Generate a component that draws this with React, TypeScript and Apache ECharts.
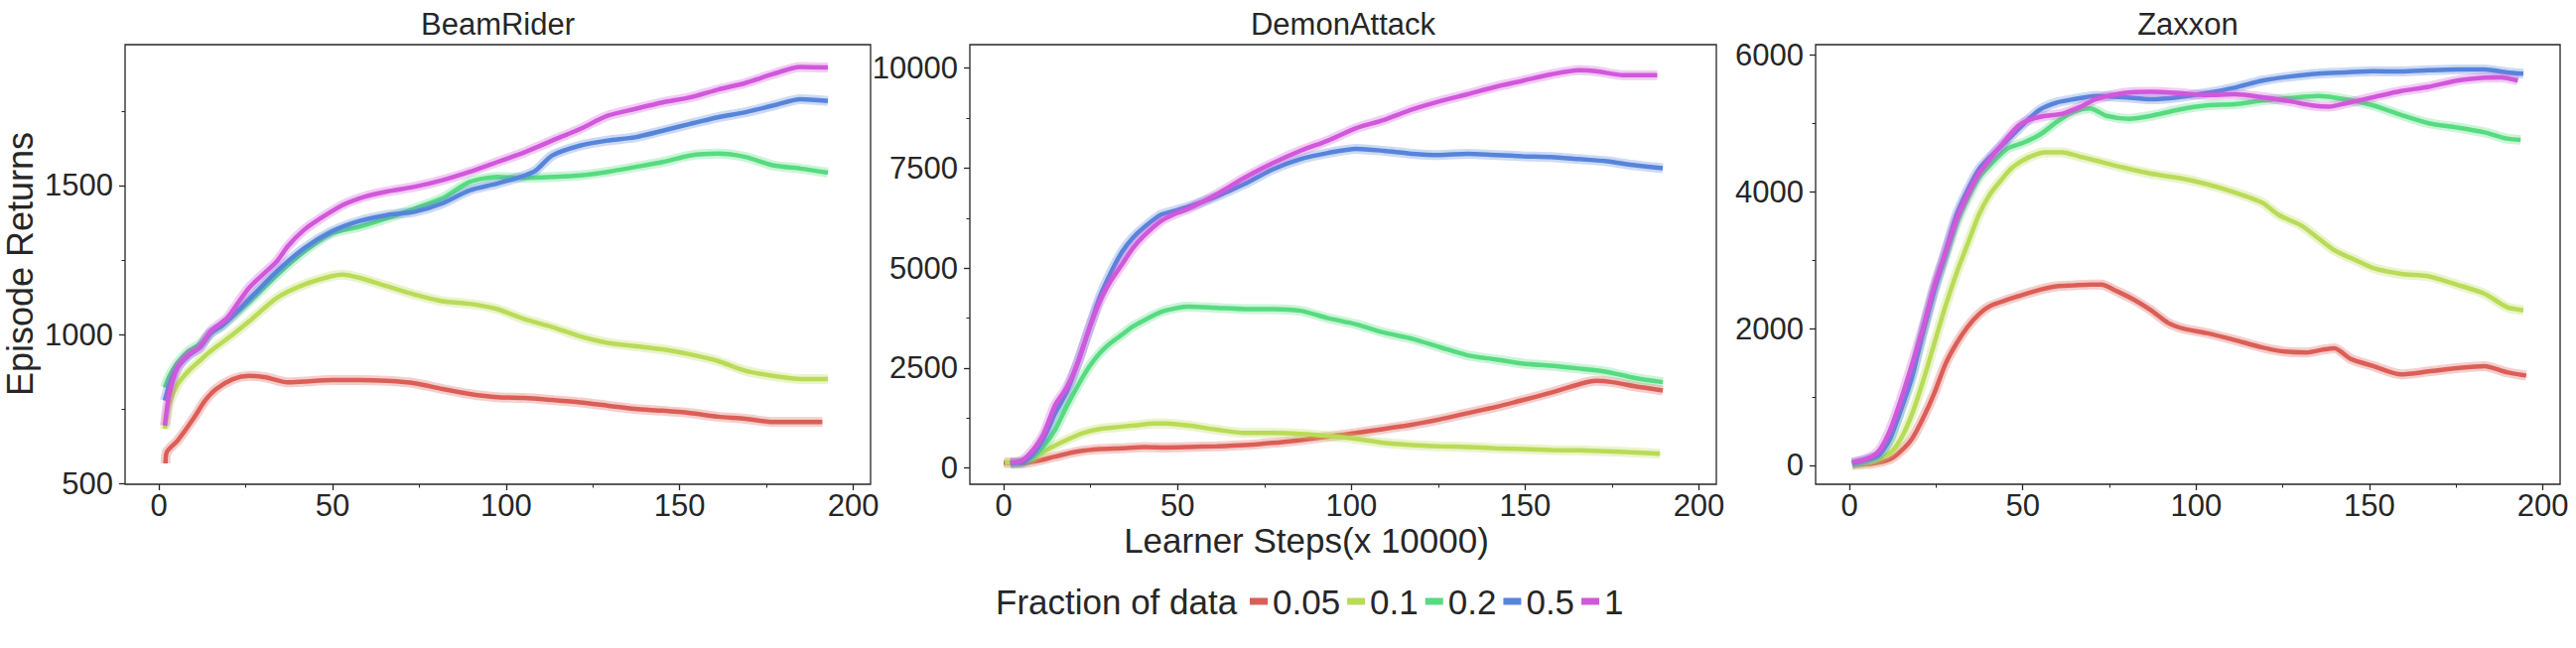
import React, { useEffect, useRef } from "react";
import * as echarts from "echarts";

// ---------- data ----------
const fractions = ["0.05", "0.1", "0.2", "0.5", "1"];
const games = ["BeamRider", "DemonAttack", "Zaxxon"];

const xMajorTicks = [0, 50, 100, 150, 200];
const xMinorTicks = [25, 75, 125, 175];
const beamRiderTicks = [500, 1000, 1500];
const beamRiderMinor = [750, 1250, 1750];
const demonAttackTicks = [0, 2500, 5000, 7500, 10000];
const demonAttackMinor = [1250, 3750, 6250, 8750];
const zaxxonTicks = [0, 2000, 4000, 6000];
const zaxxonMinor = [1000, 3000, 5000];

// BeamRider
const br005: [number, number][] = [
  [1.9, 567], [2.3, 606], [5.4, 644], [10.2, 722], [13.3, 778], [16.5, 817], [21.3, 850], [26, 861],
  [30.8, 856], [37.1, 839], [41.9, 842], [49.8, 847], [57.8, 847], [65.7, 844], [73.7, 836], [81.6, 817],
  [89.5, 800], [97.5, 789], [105.4, 787], [113.3, 780], [121.3, 772], [129.2, 761], [137.1, 750],
  [145.1, 744], [153, 736], [161, 724], [168.9, 717], [176.8, 706], [184.8, 706], [191.1, 706],
];
const br01: [number, number][] = [
  [1.7, 683], [3, 767], [5.4, 833], [8.6, 878], [11.7, 911], [14.9, 944], [21.3, 1000], [26, 1044],
  [34, 1123], [41.9, 1168], [49.8, 1196], [53, 1201], [57.8, 1190], [65.7, 1162], [73.7, 1134],
  [81.6, 1112], [89.5, 1103], [97.5, 1085], [105.4, 1051], [113.3, 1025], [121.3, 994], [129.2, 972],
  [137.1, 961], [145.1, 950], [153, 933], [161, 911], [168.9, 878], [176.8, 861], [184.8, 850], [192.7, 850],
];
const br02: [number, number][] = [
  [1.7, 822], [3, 860], [5.4, 905], [8.6, 945], [11.7, 967], [14.9, 1005], [18.1, 1029], [26, 1110],
  [34, 1200], [41.9, 1279], [49.8, 1340], [57.8, 1362], [65.7, 1390], [73.7, 1423], [81.6, 1457],
  [89.5, 1512], [97.5, 1529], [105.4, 1526], [113.3, 1529], [121.3, 1534], [129.2, 1546], [137.1, 1562],
  [145.1, 1579], [153, 1601], [161, 1607], [168.9, 1596], [176.8, 1568], [184.8, 1557], [192.7, 1543],
];
const br05: [number, number][] = [
  [1.7, 778], [3, 830], [5.4, 890], [8.6, 930], [11.7, 955], [14.9, 1005], [18.1, 1029], [26, 1118],
  [34, 1212], [41.9, 1290], [49.8, 1346], [57.8, 1381], [65.7, 1401], [73.7, 1412], [81.6, 1440],
  [89.5, 1484], [97.5, 1507], [105.4, 1534], [108.6, 1551], [113.3, 1601], [121.3, 1634], [129.2, 1651],
  [137.1, 1662], [145.1, 1684], [153, 1707], [161, 1729], [168.9, 1746], [176.8, 1768], [184.8, 1790], [192.7, 1784],
];
const br1: [number, number][] = [
  [1.7, 694], [3, 800], [5.4, 889], [8.6, 933], [11.7, 956], [14.9, 1011], [18.1, 1040], [19.7, 1055],
  [26, 1157], [34, 1246], [37.1, 1296], [41.9, 1352], [46.7, 1391], [53, 1435], [59.4, 1463], [65.7, 1480],
  [73.7, 1496], [81.6, 1518], [89.5, 1546], [97.5, 1579], [105.4, 1612], [113.3, 1651], [121.3, 1690],
  [129.2, 1734], [137.1, 1757], [145.1, 1779], [153, 1796], [161, 1822], [168.9, 1844], [176.8, 1874],
  [184.8, 1898], [192.7, 1896],
];

// DemonAttack
const da005: [number, number][] = [
  [0, 134], [5.1, 114], [9.9, 186], [14.8, 289], [21.2, 413], [27.6, 475], [34, 496], [40.4, 527],
  [46.8, 516], [53.2, 527], [61.3, 547], [69.3, 578], [77.3, 630], [85.3, 702], [93.3, 785], [101.4, 878],
  [109.4, 981], [117.4, 1085], [125.4, 1219], [133.4, 1374], [141.5, 1529], [149.5, 1705], [157.5, 1890],
  [165.5, 2097], [170.3, 2180], [175.1, 2149], [181.6, 2045], [189.6, 1942],
];
const da01: [number, number][] = [
  [0.3, 134], [5.1, 155], [8.3, 238], [13.2, 496], [18, 702], [22.8, 878], [27.6, 981], [30.8, 1012],
  [37.2, 1064], [43.6, 1116], [46.8, 1116], [53.2, 1064], [61.3, 961], [69.3, 878], [77.3, 878],
  [85.3, 857], [93.3, 806], [101.4, 733], [109.4, 630], [117.4, 578], [125.4, 547], [133.4, 527],
  [141.5, 496], [149.5, 475], [157.5, 454], [165.5, 444], [173.5, 424], [181.6, 393], [188.8, 362],
];
const da02: [number, number][] = [
  [1.9, 83], [5.1, 155], [8.3, 289], [11.5, 547], [14.8, 961], [18, 1529], [21.2, 2045], [24.4, 2510],
  [27.6, 2872], [30.8, 3130], [34, 3337], [37.2, 3543], [40.4, 3698], [45.2, 3905], [50, 4008],
  [53.2, 4039], [61.3, 4008], [69.3, 3977], [77.3, 3977], [85.3, 3936], [93.3, 3750], [101.4, 3595],
  [109.4, 3388], [117.4, 3233], [125.4, 3027], [133.4, 2820], [141.5, 2717], [149.5, 2613], [157.5, 2562],
  [165.5, 2490], [173.5, 2407], [181.6, 2252], [189.6, 2149],
];
const da05: [number, number][] = [
  [1.9, 134], [5.1, 134], [8.3, 341], [11.5, 754], [14.8, 1374], [18, 1890], [21.2, 2613], [24.4, 3440],
  [27.6, 4266], [30.8, 4886], [34, 5403], [37.2, 5764], [40.4, 6022], [45.2, 6332], [50, 6456],
  [53.2, 6539], [61.3, 6797], [69.3, 7107], [77.3, 7469], [85.3, 7727], [93.3, 7882], [101.4, 7985],
  [109.4, 7934], [117.4, 7861], [125.4, 7830], [133.4, 7861], [141.5, 7830], [149.5, 7799], [157.5, 7779],
  [165.5, 7727], [173.5, 7675], [181.6, 7572], [189.6, 7500],
];
const da1: [number, number][] = [
  [1.9, 134], [5.1, 186], [8.3, 444], [11.5, 857], [14.8, 1580], [18, 1994], [21.2, 2613], [24.4, 3440],
  [27.6, 4163], [30.8, 4680], [34, 5093], [37.2, 5506], [40.4, 5816], [45.2, 6177], [50, 6384],
  [53.2, 6487], [61.3, 6849], [69.3, 7262], [77.3, 7624], [85.3, 7934], [93.3, 8192], [101.4, 8502],
  [109.4, 8708], [117.4, 8967], [125.4, 9173], [133.4, 9349], [141.5, 9535], [149.5, 9690], [157.5, 9845],
  [165.5, 9948], [170.3, 9927], [178.3, 9824], [188, 9824],
];

// Zaxxon
const zx005: [number, number][] = [
  [0.8, 6], [6.9, 30], [11.7, 91], [14.9, 212], [18.1, 393], [21.3, 696], [24.5, 1058], [27.7, 1482],
  [30.9, 1784], [34.1, 2026], [37.3, 2208], [40.5, 2328], [45.4, 2419], [50.2, 2498], [55, 2570],
  [59.8, 2619], [64.6, 2631], [69.4, 2643], [72.6, 2643], [77.4, 2540], [82.2, 2419], [87, 2268],
  [91.8, 2087], [96.6, 1996], [103, 1935], [111.1, 1833], [119.1, 1724], [125.5, 1663], [131.9, 1651],
  [136.7, 1693], [139.9, 1712], [144.7, 1554], [151.1, 1452], [159.1, 1331], [167.1, 1373], [175.2, 1421],
  [183.2, 1452], [189.6, 1361], [195.2, 1312],
];
const zx01: [number, number][] = [
  [0.8, 12], [6.9, 60], [11.7, 181], [14.9, 393], [18.1, 756], [21.3, 1240], [24.5, 1784], [27.7, 2328],
  [30.9, 2812], [34.1, 3236], [37.3, 3659], [40.5, 3961], [43.8, 4173], [47, 4355], [51.8, 4506],
  [56.6, 4578], [61.4, 4578], [66.2, 4518], [71, 4457], [79, 4355], [87, 4264], [95, 4203], [103, 4113],
  [111.1, 3992], [119.1, 3840], [123.9, 3659], [130.3, 3508], [135.1, 3326], [139.9, 3145], [146.3, 2994],
  [151.1, 2885], [159.1, 2800], [167.1, 2764], [175.2, 2643], [183.2, 2510], [189.6, 2316], [194.4, 2268],
];
const zx02: [number, number][] = [
  [0.8, 18], [5.3, 73], [8.5, 151], [11.7, 381], [14.9, 847], [18.1, 1361], [21.3, 1966], [24.5, 2570],
  [27.7, 3054], [30.9, 3538], [34.1, 3901], [37.3, 4203], [40.5, 4385], [45.4, 4627], [50.2, 4718],
  [55, 4838], [59.8, 5020], [64.6, 5171], [69.4, 5219], [74.2, 5110], [80.6, 5068], [87, 5110], [95, 5201],
  [103, 5262], [111.1, 5280], [119.1, 5334], [127.1, 5370], [135.1, 5401], [143.1, 5352], [151.1, 5262],
  [159.1, 5123], [167.1, 5002], [175.2, 4941], [183.2, 4869], [189.6, 4778], [193.6, 4760],
];
const zx05: [number, number][] = [
  [0.8, 30], [5.3, 91], [8.5, 151], [11.7, 393], [14.9, 816], [18.1, 1300], [21.3, 1966], [24.5, 2570],
  [27.7, 3115], [30.9, 3659], [34.1, 4022], [37.3, 4324], [40.5, 4506], [45.4, 4748], [50.2, 4990],
  [55, 5201], [59.8, 5304], [64.6, 5352], [71, 5401], [79, 5383], [87, 5352], [95, 5383], [103, 5443],
  [111.1, 5522], [119.1, 5625], [127.1, 5685], [135.1, 5727], [143.1, 5746], [151.1, 5764], [159.1, 5758],
  [167.1, 5776], [175.2, 5788], [183.2, 5788], [189.6, 5746], [194.4, 5727],
];
const zx1: [number, number][] = [
  [0.8, 42], [5.3, 103], [8.5, 212], [11.7, 514], [14.9, 968], [18.1, 1482], [21.3, 2026], [24.5, 2631],
  [27.7, 3115], [30.9, 3599], [34.1, 3961], [37.3, 4264], [40.5, 4476], [45.4, 4778], [48.6, 4959],
  [51.8, 5050], [56.6, 5110], [61.4, 5141], [66.2, 5231], [71, 5352], [79, 5443], [87, 5461], [95, 5443],
  [103, 5413], [111.1, 5425], [119.1, 5383], [127.1, 5322], [133.5, 5262], [138.3, 5244], [143.1, 5292],
  [151.1, 5383], [159.1, 5473], [167.1, 5534], [175.2, 5625], [183.2, 5667], [188, 5673], [192.8, 5625],
];

const panelSeries = [
  [br005, br01, br02, br05, br1],
  [da005, da01, da02, da05, da1],
  [zx005, zx01, zx02, zx05, zx1],
];
const panelMajor = [beamRiderTicks, demonAttackTicks, zaxxonTicks];
const panelMinor = [beamRiderMinor, demonAttackMinor, zaxxonMinor];

// ---------- styling / layout ----------
const COLORS = ["#db5e57", "#b9db57", "#57db80", "#5784db", "#d157db"];
const INK = "#262626";
const FONT = "'Liberation Sans', Arial, sans-serif";
const GRIDS = [
  { left: 126, width: 751, yMin: 497, yMax: 1973 },
  { left: 977, width: 752, yMin: -404, yMax: 10589 },
  { left: 1829, width: 750, yMin: -276, yMax: 6151 },
];
const TOP = 45;
const HEIGHT = 443;
const plain = (v: number) => String(v);

function buildOption() {
  const grid: any[] = [];
  const xAxis: any[] = [];
  const yAxis: any[] = [];
  const series: any[] = [];
  GRIDS.forEach((g, i) => {
    grid.push({
      left: g.left, top: TOP, width: g.width, height: HEIGHT,
      show: true, borderColor: INK, borderWidth: 1.3, backgroundColor: "transparent",
      containLabel: false, outerBoundsMode: "none",
    });
    const xBase = {
      type: "value", gridIndex: i, position: "bottom", min: -9.75, max: 205,
      axisLine: { show: false, onZero: false }, splitLine: { show: false }, minorTick: { show: false },
    };
    xAxis.push({
      ...xBase,
      axisTick: { show: true, length: 6, customValues: xMajorTicks, lineStyle: { color: INK, width: 1.3 } },
      axisLabel: { show: true, customValues: xMajorTicks, formatter: plain, fontSize: 31, color: INK, fontFamily: FONT, margin: 6 },
    });
    xAxis.push({
      ...xBase,
      axisTick: { show: true, length: 3.5, customValues: xMinorTicks, lineStyle: { color: INK, width: 1 } },
      axisLabel: { show: false },
    });
    const yBase = {
      type: "value", gridIndex: i, position: "left", min: g.yMin, max: g.yMax,
      axisLine: { show: false, onZero: false }, splitLine: { show: false }, minorTick: { show: false },
    };
    yAxis.push({
      ...yBase,
      axisTick: { show: true, length: 6, customValues: panelMajor[i], lineStyle: { color: INK, width: 1.3 } },
      axisLabel: { show: true, customValues: panelMajor[i], formatter: plain, fontSize: 31, color: INK, fontFamily: FONT, margin: 12 },
    });
    yAxis.push({
      ...yBase,
      axisTick: { show: true, length: 3.5, customValues: panelMinor[i], lineStyle: { color: INK, width: 1 } },
      axisLabel: { show: false },
    });
    panelSeries[i].forEach((data, k) => {
      series.push({
        type: "line", name: fractions[k] + " band", xAxisIndex: i * 2, yAxisIndex: i * 2,
        data, showSymbol: false, symbol: "none", smooth: 0.25, silent: true,
        lineStyle: { color: COLORS[k], width: 10, opacity: 0.3 },
        itemStyle: { color: COLORS[k] },
      });
      series.push({
        type: "line", name: fractions[k], xAxisIndex: i * 2, yAxisIndex: i * 2,
        data, showSymbol: false, symbol: "none", smooth: 0.25,
        lineStyle: { color: COLORS[k], width: 4.5 },
        itemStyle: { color: COLORS[k] },
      });
    });
  });

  const graphic: any[] = [];
  GRIDS.forEach((g, i) => {
    graphic.push({
      type: "text", x: g.left + g.width / 2, y: 24,
      style: { text: games[i], fontSize: 31, fontFamily: FONT, fill: INK, textAlign: "center", textVerticalAlign: "middle" },
    });
  });
  graphic.push({
    type: "text", x: 20, y: 266, rotation: Math.PI / 2,
    style: { text: "Episode Returns", fontSize: 36, fontFamily: FONT, fill: INK, textAlign: "center", textVerticalAlign: "middle" },
  });
  graphic.push({
    type: "text", x: 1316, y: 544,
    style: { text: "Learner Steps(x 10000)", fontSize: 35, fontFamily: FONT, fill: INK, textAlign: "center", textVerticalAlign: "middle" },
  });
  graphic.push({
    type: "text", x: 1003, y: 606,
    style: { text: "Fraction of data", fontSize: 35, fontFamily: FONT, fill: INK, textAlign: "left", textVerticalAlign: "middle" },
  });

  return {
    animation: false,
    backgroundColor: "#ffffff",
    grid, xAxis, yAxis, series, graphic,
    legend: {
      data: fractions, left: 1259, top: 586, orient: "horizontal",
      icon: "rect", itemWidth: 18, itemHeight: 7, itemGap: 7, padding: 0,
      textStyle: { fontSize: 35, color: INK, fontFamily: FONT, lineHeight: 40 },
      selectedMode: false,
    },
  };
}

export default function App() {
  const ref = useRef<HTMLDivElement>(null);
  useEffect(() => {
    if (!ref.current) return;
    const chart = echarts.init(ref.current, undefined, { renderer: "svg" });
    chart.setOption(buildOption() as any);
    return () => chart.dispose();
  }, []);
  return (
    <div
      ref={ref}
      style={{ position: "absolute", left: 0, top: 0, width: 2595, height: 653, background: "#fff" }}
    />
  );
}
